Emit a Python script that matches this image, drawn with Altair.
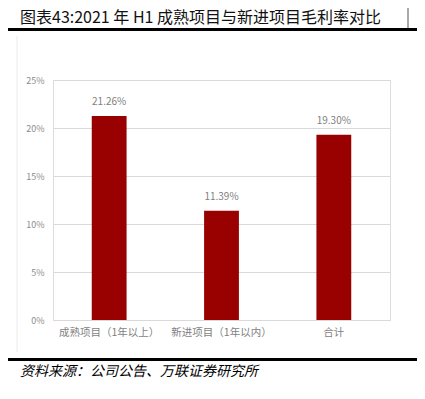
import altair as alt
import pandas as pd

categories = ["成熟项目（1年以上）", "新进项目（1年以内）", "合计"]
margins = [0.2126, 0.1139, 0.1930]
labels = ["21.26%", "11.39%", "19.30%"]
y_ticks = [0, 0.05, 0.10, 0.15, 0.20, 0.25]
title_text = "图表43:2021 年 H1 成熟项目与新进项目毛利率对比"
source_text = "资料来源：公司公告、万联证券研究所"

FONT = "Noto Sans CJK SC"

df = pd.DataFrame({"cat": categories, "val": margins, "lab": labels})
one = pd.DataFrame({"a": [0]})

x_enc = alt.X("cat:N", sort=categories, title=None,
              scale=alt.Scale(paddingInner=0.69, paddingOuter=0.345),
              axis=alt.Axis(labelAngle=0, labelFontSize=10.5, labelColor="#7f7f7f",
                            labelFont=FONT, ticks=False, domainColor="#d9d9d9",
                            labelPadding=7, grid=False))
y_enc = alt.Y("val:Q", title=None,
              scale=alt.Scale(domain=[0, 0.25], nice=False),
              axis=alt.Axis(values=y_ticks, format=".0%", labelFontSize=9,
                            labelColor="#8c8c8c", labelFont=FONT, ticks=False,
                            domain=False, labelPadding=9, gridColor="#d9d9d9"))

bars = alt.Chart(df).mark_bar(color="#990000").encode(x=x_enc, y=y_enc)
text = alt.Chart(df).mark_text(dy=-14, fontSize=10, color="#7f7f7f", font=FONT,
                               baseline="middle").encode(
    x=alt.X("cat:N", sort=categories), y="val:Q", text="lab:N")

deco = alt.Chart(one)
title = deco.mark_text(align="left", baseline="alphabetic", fontSize=16, font=FONT,
                       fontWeight="normal", color="#111111").encode(
    x=alt.value(-33), y=alt.value(-57), text=alt.value(title_text))
top_line = deco.mark_rule(color="#000000", strokeWidth=3).encode(
    x=alt.value(-45), x2=alt.value(370), y=alt.value(-50.5))
bot_line = deco.mark_rule(color="#000000", strokeWidth=3).encode(
    x=alt.value(-45), x2=alt.value(370), y=alt.value(279.5))
left_line = deco.mark_rule(color="#ececec", strokeWidth=1).encode(
    x=alt.value(-36), y=alt.value(-44), y2=alt.value(272))
right_line = deco.mark_rule(color="#555555", strokeWidth=1).encode(
    x=alt.value(355), y=alt.value(-72), y2=alt.value(-52))
source = deco.mark_text(align="left", baseline="middle", fontSize=14, font=FONT,
                        fontStyle="italic", color="#000000").encode(
    x=alt.value(-33), y=alt.value(292), text=alt.value(source_text))

chart = alt.layer(bars, text, title, top_line, bot_line, left_line, right_line,
                  source).properties(
    width=337, height=240,
    autosize=alt.AutoSizeParams(type="none"),
    padding={"left": 45, "top": 72, "right": 27, "bottom": 71},
).configure_view(stroke=None).configure(background="white")

chart.save("out.html", embed_options={"renderer": "svg", "actions": False})
